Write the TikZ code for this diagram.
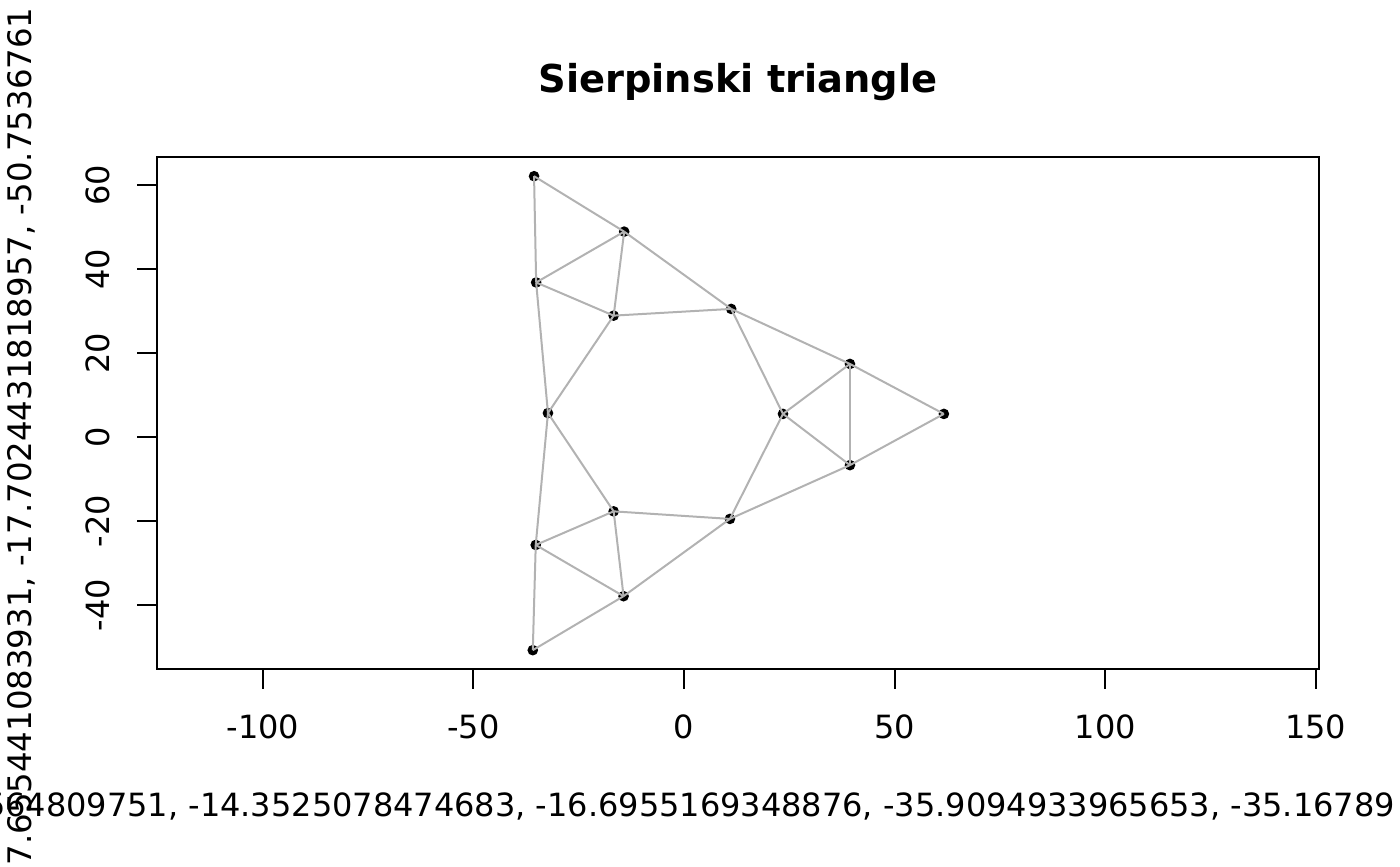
\documentclass[tikz,border=0pt]{standalone}
\usepackage{fontspec}
\setmainfont{DejaVu Sans}
\begin{document}
\begin{tikzpicture}[x=0.375pt,y=-0.375pt,
font=\fontsize{12}{14.4}\selectfont,
every node/.style={inner sep=0pt},
vertex/.style={circle,fill=black,minimum size=4pt},
link/.style={draw=black!30,line width=0.75pt},
frame/.style={draw=black,line width=0.75pt}]
\useasboundingbox (0,0) rectangle (1400,866);
\node[font=\fontsize{14.4}{17.28}\selectfont\bfseries,anchor=base] (title) at (738,92) {Sierpinski triangle};
\node[anchor=base west] (xlab) at (-15.5,816)
 {564809751, -14.3525078474683, -16.6955169348876, -35.9094933965653, -35.16789};
\node[anchor=base west,rotate=90,font=\fontsize{12.15}{14.4}\selectfont] (ylab) at (32,866)
 {7.655441083931, -17.7024431818957, -50.7536761};
\begin{scope}[shift={(684,437)},x=1.5795pt,y=1.575pt]
\draw[frame] (-125.12,-55.24) coordinate (sw) rectangle (150.76,66.67) coordinate (ne);
\foreach \t [count=\i] in {-100,-50,...,150}{
 \draw[frame] (\t,0 |- sw) -- ++(0pt,-7.5pt);
 \node[anchor=base,yshift=-25.875pt] (xt\i) at (\t,0 |- sw) {\t};
}
\foreach \t [count=\i] in {-40,-20,...,60}{
 \draw[frame] (sw |- 0,\t) -- ++(-7.5pt,0pt);
 \node[xshift=-17.625pt,rotate=90,anchor=base] (yt\i) at (sw |- 0,\t) {\t};
}
\foreach \n/\a/\b in {1/-35.6/62.1, 2/-14.2/48.9, 3/-35.1/36.8, 4/-16.7/28.9,
 5/11.2/30.5, 6/39.4/17.4, 7/61.7/5.5, 8/23.5/5.5, 9/39.4/-6.7, 10/-32.3/5.7,
 11/-16.7/-17.7, 12/10.9/-19.5, 13/-35.2/-25.7, 14/-14.35/-37.9, 15/-35.9/-50.75}
 \node[vertex] (v\n) at (\a,\b) {};
\foreach \a/\b in {1/2,1/3,2/3,2/4,3/4,2/5,4/5,3/10,4/10,5/6,5/8,6/8,6/7,6/9,
 7/9,8/9,8/12,9/12,10/11,10/13,11/12,11/13,11/14,13/14,13/15,14/15,12/14}
 \draw[link] (v\a.center) -- (v\b.center);
\end{scope}
\end{tikzpicture}
\end{document}
